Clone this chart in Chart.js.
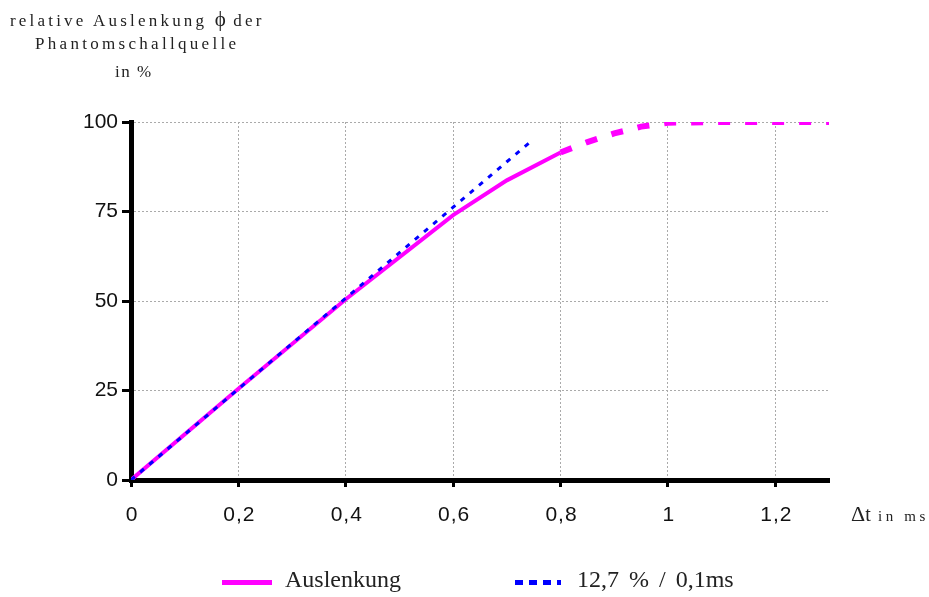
<!DOCTYPE html>
<html><head><meta charset="utf-8">
<script src="https://cdn.jsdelivr.net/npm/chart.js@4"></script>
<style>
html,body{margin:0;padding:0;background:#fff;}
#wrap{position:relative;width:929px;height:597px;}
canvas{position:absolute;left:0;top:0;}
.t{position:absolute;font-family:"Liberation Serif","DejaVu Serif",serif;color:#222;white-space:nowrap;}
</style></head>
<body><div id="wrap"><canvas id="c" width="929" height="597"></canvas>
<div class="t" style="left:10px;top:7px;font-size:17px;letter-spacing:3.2px;">relative Auslenkung <span style="font-size:21px;letter-spacing:0">ϕ</span> der</div>
<div class="t" style="left:35px;top:34px;font-size:17px;letter-spacing:3.3px;">Phantomschallquelle</div>
<div class="t" style="left:115px;top:62px;font-size:17px;letter-spacing:1.5px;">in %</div>
<div class="t" style="left:851px;top:501px;font-size:22px;">Δ<span style="font-size:20px">t</span><span style="font-size:15px;letter-spacing:3.6px"> in ms</span></div>
<div style="position:absolute;left:222px;top:580px;width:50px;height:5px;background:#ff00ff;"></div>
<div class="t" style="left:285px;top:566px;font-size:24px;">Auslenkung</div>
<div style="position:absolute;left:515px;top:580px;width:46px;height:5px;background:repeating-linear-gradient(90deg,#0000ff 0 8px,transparent 8px 14px);"></div>
<div class="t" style="left:577px;top:566px;font-size:24px;word-spacing:4px;">12,7 % / 0,1ms</div>
</div>
<script>
const auslenkungX = [0, 0.2, 0.4, 0.6, 0.7, 0.8, 0.85, 0.9, 0.95, 1.0, 1.1, 1.2, 1.3];
const auslenkungY = [0, 25.5, 50.5, 74, 83.7, 91.5, 94.4, 96.8, 98.7, 99.8, 100, 100, 100];
const referenzX = [0, 0.1, 0.2, 0.3, 0.4, 0.5, 0.6, 0.7, 0.75];
const referenzY = [0, 12.7, 25.4, 38.1, 50.8, 63.5, 76.2, 88.9, 95.25];
const xTicks = [0, 0.2, 0.4, 0.6, 0.8, 1, 1.2];
const yTicks = [0, 25, 50, 75, 100];
const dashStartX = 0.8;

const toPts = (xs, ys) => xs.map((x, i) => ({x: x, y: ys[i]}));
const fmt = v => String(Math.round(v * 10) / 10).replace('.', ',');

const chart = new Chart(document.getElementById('c'), {
  type: 'line',
  data: {
    datasets: [
      {
        label: '12,7 % / 0,1ms',
        data: toPts(referenzX, referenzY),
        borderColor: '#0000ff',
        borderWidth: 3,
        borderDash: [5, 7],
        pointRadius: 0,
        tension: 0,
        order: 0
      },
      {
        label: 'Auslenkung',
        data: toPts(auslenkungX, auslenkungY),
        borderColor: '#ff00ff',
        borderWidth: 4,
        pointRadius: 0,
        tension: 0,
        segment: {
          borderDash: ctx => ctx.p0.parsed.x >= dashStartX - 1e-9 ? [12, 15] : undefined,
          borderWidth: ctx => ctx.p0.parsed.x >= dashStartX - 1e-9 ? 6 : 4
        },
        order: 1
      }
    ]
  },
  options: {
    responsive: false,
    animation: false,
    layout: {padding: {left: 0, right: 100, top: 122, bottom: 0}},
    plugins: {legend: {display: false}, tooltip: {enabled: false}},
    scales: {
      x: {
        type: 'linear', min: 0, max: 1.3,
        afterBuildTicks: s => { s.ticks = xTicks.map(v => ({value: v})); },
        afterFit: s => { s.height = 117; },
        border: {display: true, color: '#000', width: 5, dash: [2, 2]},
        grid: {color: '#aaa', lineWidth: 1, drawTicks: true, tickLength: 7, tickColor: '#000', tickWidth: 3, tickBorderDash: []},
        ticks: {color: '#111', padding: 16, font: {family: 'Liberation Sans, Arial, sans-serif', size: 21}, callback: v => fmt(v)}
      },
      y: {
        type: 'linear', min: 0, max: 100,
        afterBuildTicks: s => { s.ticks = yTicks.map(v => ({value: v})); },
        afterFit: s => { s.width = 131; },
        border: {display: true, color: '#000', width: 5, dash: [2, 2]},
        grid: {color: '#aaa', lineWidth: 1, drawTicks: true, tickLength: 9, tickColor: '#000', tickWidth: 3, tickBorderDash: []},
        ticks: {color: '#111', padding: 4, font: {family: 'Liberation Sans, Arial, sans-serif', size: 21}, callback: v => String(v)}
      }
    }
  }
});
const sx = chart.scales.x;
const origDrawLabels = sx.drawLabels.bind(sx);
sx.drawLabels = function (area) {
  const c = this.ctx;
  c.save();
  if ('letterSpacing' in c) c.letterSpacing = '1px';
  c.translate(1, 0);
  origDrawLabels(area);
  c.restore();
};
chart.draw();
</script>
</body></html>
